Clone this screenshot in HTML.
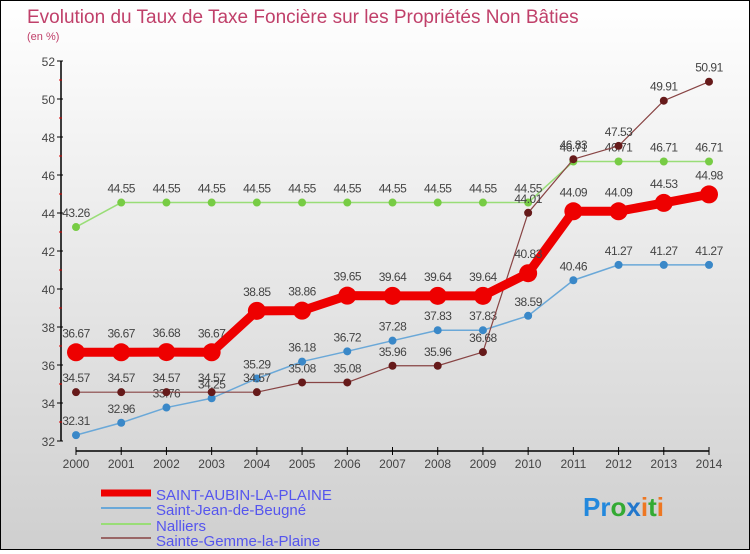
<!DOCTYPE html>
<html><head><meta charset="utf-8"><style>
html,body{margin:0;padding:0}
body{width:750px;height:550px;overflow:hidden}
#wrap{position:relative;width:748px;height:548px;border:1px solid #000;background:linear-gradient(#ffffff,#cfcfcf);font-family:"Liberation Sans",sans-serif}
svg text{font-family:"Liberation Sans",sans-serif}
</style></head><body>
<div id="wrap">
<svg id="chart" width="748" height="548">
<text x="26" y="22" font-size="19" fill="#c0406a">Evolution du Taux de Taxe Foncière sur les Propriétés Non Bâties</text>
<text x="26" y="39" font-size="11" fill="#c0406a">(en %)</text>
<g id="axes"></g><g id="series"></g>
<g id="legend" font-size="15" fill="#5555ee">
<line x1="100" y1="492" x2="150" y2="492" stroke="#ee0000" stroke-width="7"/>
<text x="155" y="499">SAINT-AUBIN-LA-PLAINE</text>
<line x1="100" y1="507" x2="150" y2="507" stroke="#6aa8d8" stroke-width="2"/>
<text x="155" y="514">Saint-Jean-de-Beugné</text>
<line x1="100" y1="523" x2="150" y2="523" stroke="#99dd77" stroke-width="2"/>
<text x="155" y="530">Nalliers</text>
<line x1="100" y1="537" x2="150" y2="537" stroke="#996666" stroke-width="2"/>
<text x="155" y="545">Sainte-Gemme-la-Plaine</text>
</g>
<text x="582" y="515" font-size="26" font-weight="bold"><tspan fill="#2288dd">Pr</tspan><tspan fill="#33aa33">o</tspan><tspan fill="#2277cc">x</tspan><tspan fill="#ee7722">i</tspan><tspan fill="#33aa33">t</tspan><tspan fill="#ee7722">i</tspan></text>
</svg></div>
<script>
var years=[2000,2001,2002,2003,2004,2005,2006,2007,2008,2009,2010,2011,2012,2013,2014];
var yTicks=[32,34,36,38,40,42,44,46,48,50,52];
var saintAubin=[36.67,36.67,36.68,36.67,38.85,38.86,39.65,39.64,39.64,39.64,40.83,44.09,44.09,44.53,44.98];
var saintJean=[32.31,32.96,33.76,34.25,35.29,36.18,36.72,37.28,37.83,37.83,38.59,40.46,41.27,41.27,41.27];
var nalliers=[43.26,44.55,44.55,44.55,44.55,44.55,44.55,44.55,44.55,44.55,44.55,46.71,46.71,46.71,46.71];
var sainteGemme=[34.57,34.57,34.57,34.57,34.57,35.08,35.08,35.96,35.96,36.68,44.01,46.83,47.53,49.91,50.91];
var NS='http://www.w3.org/2000/svg';
function xS(i){return 75+i*(708-75)/(years.length-1);}
function yS(v){return 440-(v-32)*19;}
function mk(tag,attrs,parent){var e=document.createElementNS(NS,tag);for(var k in attrs)e.setAttribute(k,attrs[k]);parent.appendChild(e);return e;}
var ax=document.getElementById('axes');
var yl=mk('line',{x1:60,y1:yS(52),x2:60,y2:yS(32),stroke:'#000','stroke-width':1.5},ax);


yTicks.forEach(function(t){
  mk('line',{x1:56,y1:yS(t),x2:62,y2:yS(t),stroke:'#000'},ax);
  if(t<52)mk('line',{x1:58,y1:yS(t+1),x2:61,y2:yS(t+1),stroke:'#d00'},ax);
  var tx=mk('text',{x:54,y:yS(t)+5,'font-size':12,fill:'#444','text-anchor':'end'},ax);tx.textContent=t;
  
  
});
var xl=mk('line',{x1:75,y1:450,x2:708,y2:450,stroke:'#000','stroke-width':1.5},ax);


years.forEach(function(y,i){
  mk('line',{x1:xS(i),y1:446,x2:xS(i),y2:454,stroke:'#000'},ax);
  var tx=mk('text',{x:xS(i),y:467,'font-size':12,fill:'#444','text-anchor':'middle'},ax);tx.textContent=y;
  
  
});
var sg=document.getElementById('series');
function draw(vals,color,ptColor,w,r,name){
  var g=mk('g',{},sg);
  
  
  var pts=vals.map(function(v,i){return xS(i)+','+yS(v);}).join(' ');
  mk('polyline',{points:pts,fill:'none',stroke:color,'stroke-width':w,'stroke-linejoin':'round'},g);
  vals.forEach(function(v,i){
    var c=mk('circle',{cx:xS(i),cy:yS(v),r:r,fill:ptColor},g);
    
    
    var t=mk('text',{x:xS(i),y:yS(v)-r-6,'font-size':12,fill:'#444','text-anchor':'middle','letter-spacing':'-0.5'},g);
    t.textContent=v;
    
    
  });
}
draw(nalliers,'#99dd77','#77cc44',1.5,4,'nalliers');
draw(saintJean,'#6aa8d8','#3a88c8',1.5,4,'saint-jean');
draw(sainteGemme,'#884444','#661a1a',1.2,4,'sainte-gemme');
draw(saintAubin,'#ee0000','#ee0000',9,9,'saint-aubin');
</script>
</body></html>
